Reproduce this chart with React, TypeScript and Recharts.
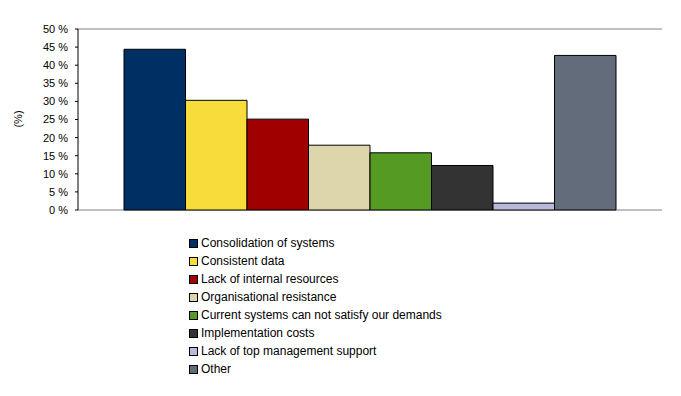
import { BarChart, Bar, XAxis, YAxis, CartesianGrid } from 'recharts'

const categories = ['']

const seriesNames = [
  'Consolidation of systems',
  'Consistent data',
  'Lack of internal resources',
  'Organisational resistance',
  'Current systems can not satisfy our demands',
  'Implementation costs',
  'Lack of top management support',
  'Other',
]

const seriesValues = [44.4, 30.3, 25.1, 17.9, 15.8, 12.3, 1.9, 42.7]

const seriesColors = [
  '#003063', // navy
  '#F7DC3A', // yellow
  '#A00000', // dark red
  '#DDD6AC', // beige
  '#559A22', // green
  '#333333', // charcoal
  '#B9B9D9', // lavender
  '#636C7B', // slate
]

const yTicks = [0, 5, 10, 15, 20, 25, 30, 35, 40, 45, 50]

const data = categories.map((name) => {
  const row: Record<string, string | number> = { name }
  seriesValues.forEach((v, i) => {
    row[`s${i}`] = v
  })
  return row
})

const font = 'Arial, "Liberation Sans", sans-serif'

export default function App() {
  return (
    <div style={{ position: 'absolute', left: 0, top: 0, width: 681, height: 396, background: '#fff', fontFamily: font }}>
      <BarChart
        width={681}
        height={396}
        data={data}
        margin={{ top: 29, right: 19, bottom: 186, left: 18 }}
        barSize={61.5}
        barGap={0}
      >
        <CartesianGrid vertical={false} stroke="#808080" strokeWidth={1} />
        <XAxis dataKey="name" tick={false} tickLine={false} height={0} axisLine={{ stroke: '#000' }} />
        <YAxis
          yAxisId="left"
          domain={[0, 50]}
          ticks={yTicks}
          interval={0}
          width={60}
          tickFormatter={(v) => `${v} %`}
          tick={{ fill: '#000', fontSize: 11, fontFamily: font }}
          tickSize={3}
          tickMargin={7}
          tickLine={{ stroke: '#000' }}
          axisLine={{ stroke: '#000' }}
          label={{
            content: () => (
              <text x={22} y={119} transform="rotate(-90 22 119)" textAnchor="middle" fontSize={11} fontFamily={font} fill="#000">
                (%)
              </text>
            ),
          }}
        />
        <YAxis
          yAxisId="right"
          orientation="right"
          domain={[0, 50]}
          width={0}
          tick={false}
          tickLine={false}
          axisLine={{ stroke: '#808080' }}
        />
        {seriesNames.map((n, i) => (
          <Bar
            key={n}
            yAxisId="left"
            dataKey={`s${i}`}
            name={n}
            fill={seriesColors[i]}
            stroke="#000"
            strokeWidth={1}
            isAnimationActive={false}
          />
        ))}
      </BarChart>
      <div style={{ position: 'absolute', left: 189, top: 234 }}>
        {seriesNames.map((n, i) => (
          <div key={`item-${i}`} style={{ display: 'flex', alignItems: 'center', height: 18 }}>
            <div style={{ width: 7, height: 7, border: '1px solid #000', background: seriesColors[i], marginRight: 3 }} />
            <span style={{ fontSize: 12, color: '#000', fontFamily: font }}>{n}</span>
          </div>
        ))}
      </div>
    </div>
  )
}
